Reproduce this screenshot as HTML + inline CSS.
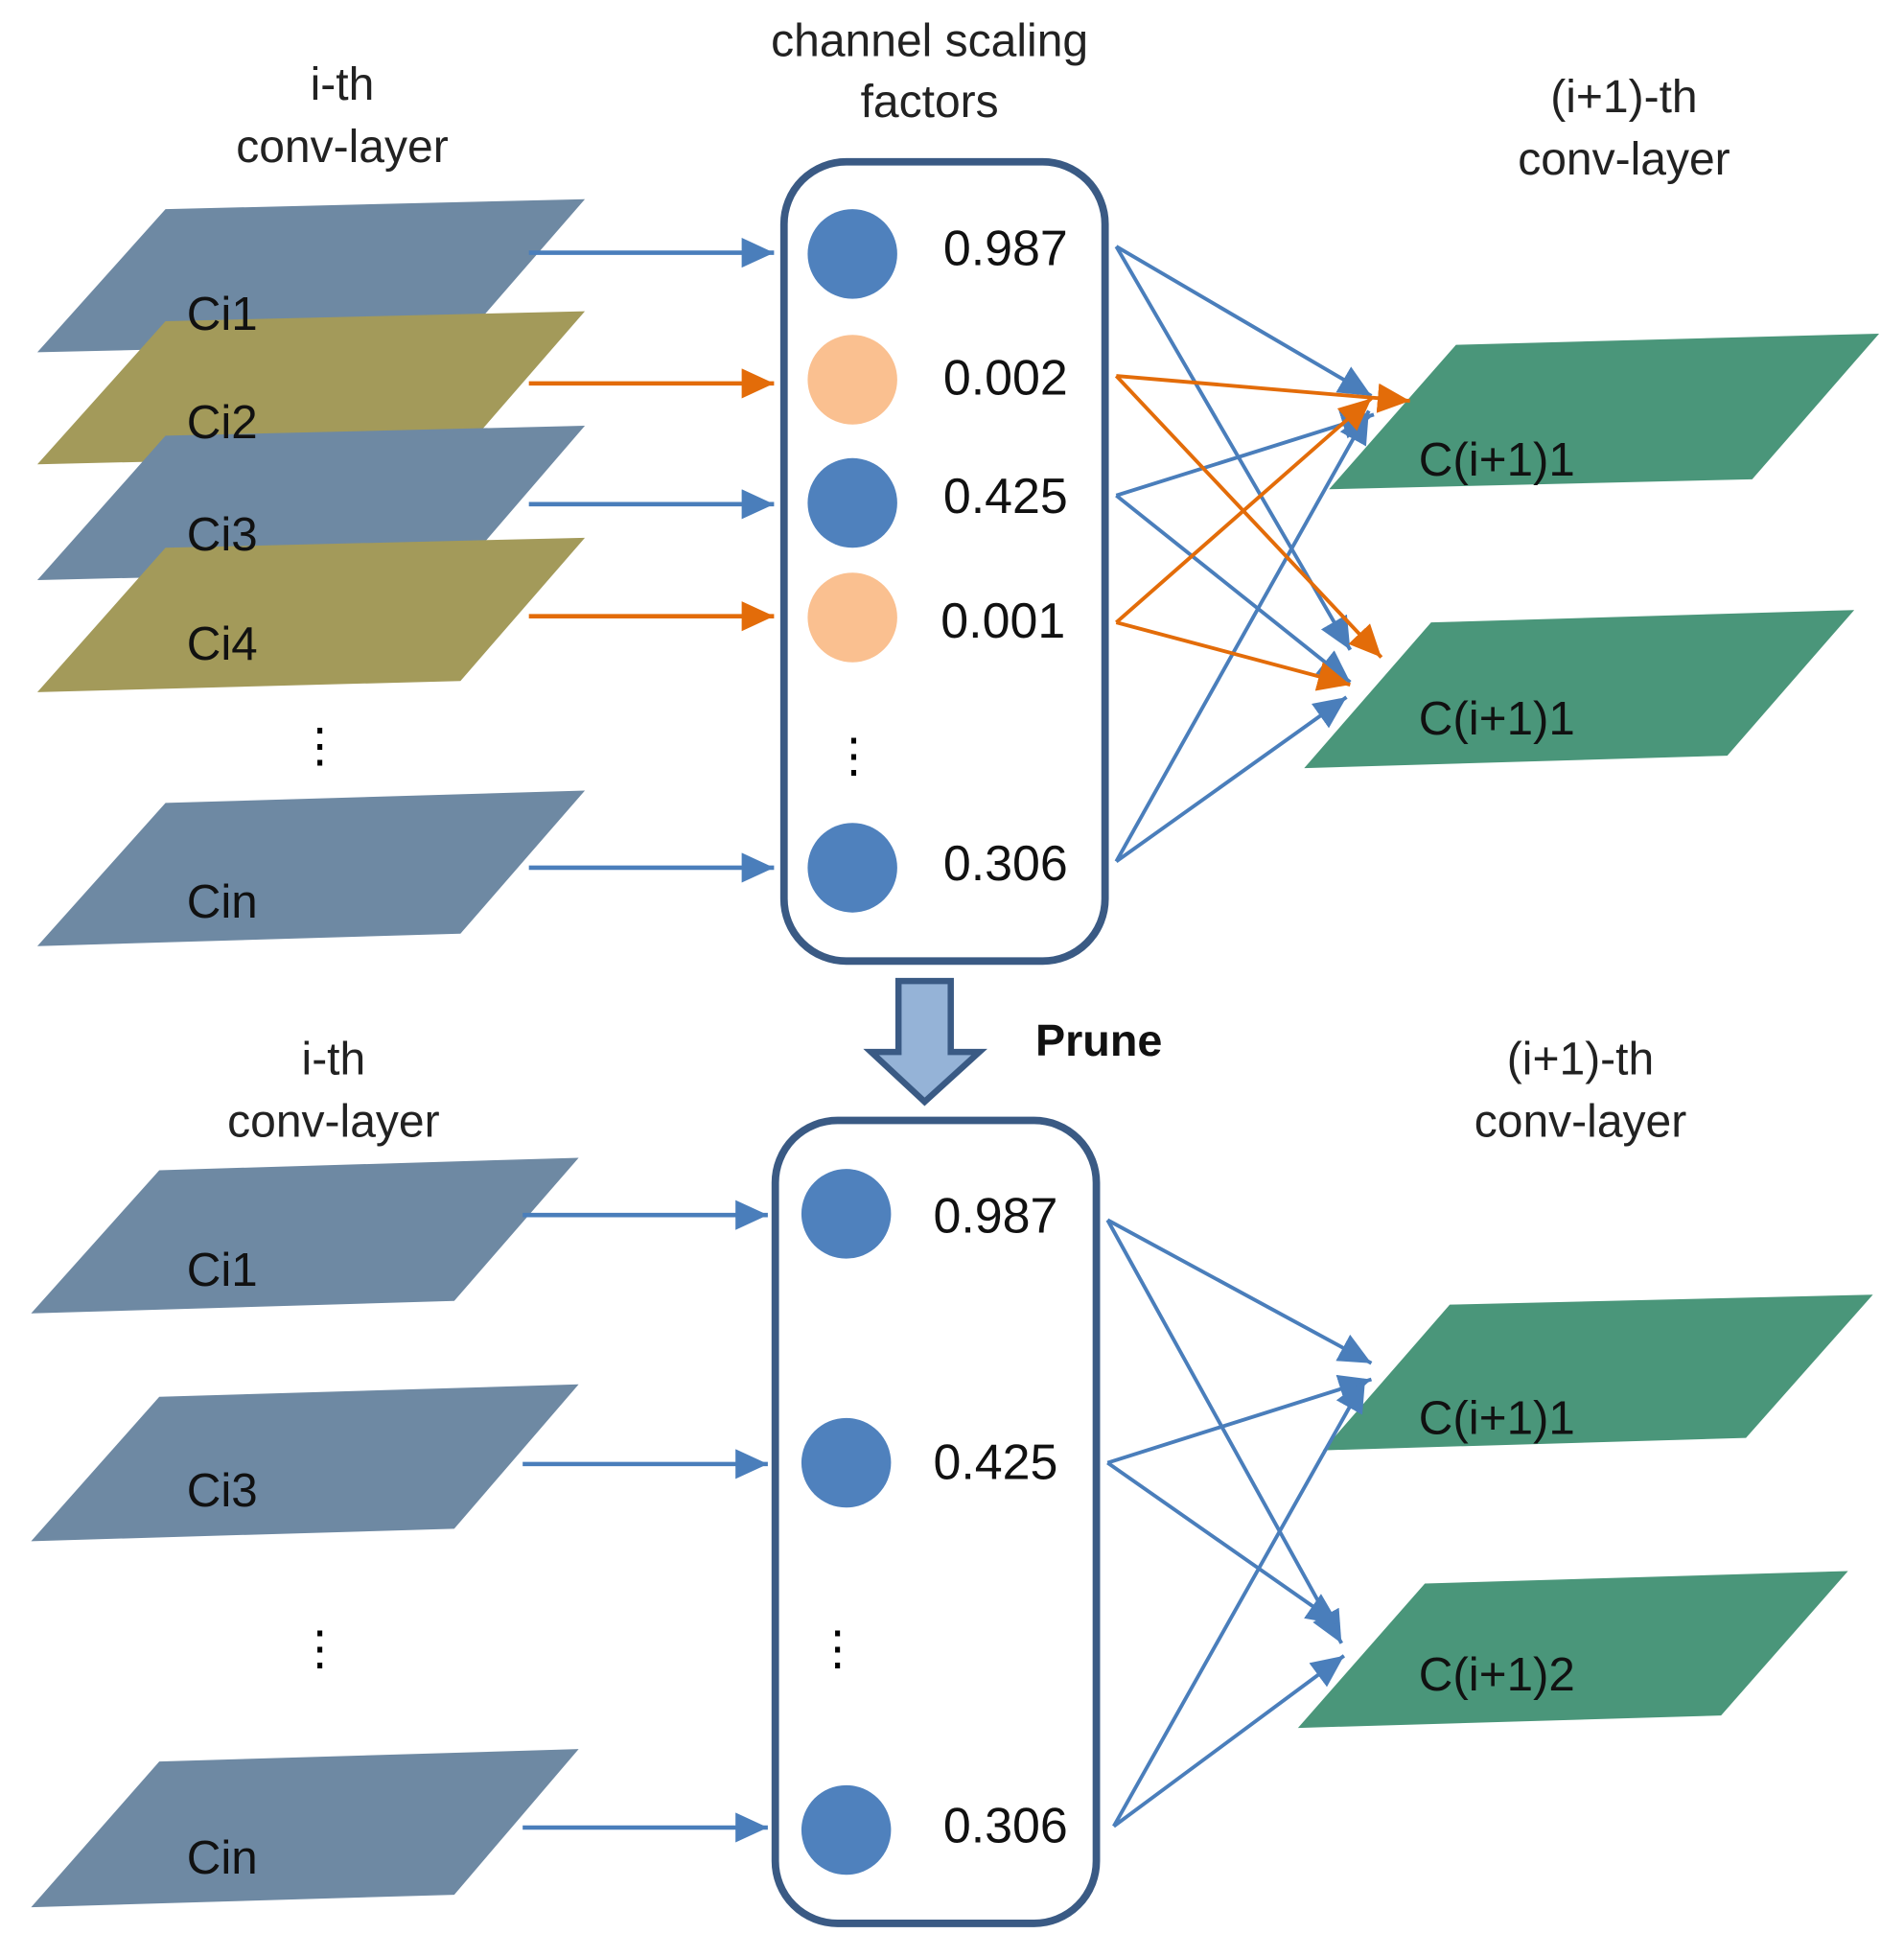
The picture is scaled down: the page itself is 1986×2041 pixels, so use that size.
<!DOCTYPE html>
<html><head><meta charset="utf-8"><style>html,body{margin:0;padding:0;background:#fff}svg{display:block}</style></head>
<body>
<svg width="1986" height="2041" viewBox="0 0 1530 1572" preserveAspectRatio="none" xmlns="http://www.w3.org/2000/svg" font-family="Liberation Sans, sans-serif">
<defs>
<marker id="b" markerUnits="userSpaceOnUse" markerWidth="30" markerHeight="30" refX="26" refY="12" orient="auto"><path d="M0,0 L26,12 L0,24 Z" fill="#4a7ebb"/></marker>
<marker id="o" markerUnits="userSpaceOnUse" markerWidth="30" markerHeight="30" refX="26" refY="12" orient="auto"><path d="M0,0 L26,12 L0,24 Z" fill="#e36c09"/></marker>
</defs>
<g font-size="37" fill="#222" text-anchor="middle">
<text x="275" y="80">i-th</text><text x="275" y="130">conv-layer</text>
<text x="747" y="45">channel scaling</text><text x="747" y="94">factors</text>
<text x="1305" y="90">(i+1)-th</text><text x="1305" y="140">conv-layer</text>
<text x="268" y="863">i-th</text><text x="268" y="913">conv-layer</text>
<text x="1270" y="863">(i+1)-th</text><text x="1270" y="913">conv-layer</text>
</g>
<!-- top left planes -->
<polygon points="30,283 133,168 470,160 370,275" fill="#6e89a3"/>
<polygon points="30,373 133,258 470,250 370,365" fill="#a39a5a"/>
<polygon points="30,466 133,350 470,342 370,458" fill="#6e89a3"/>
<polygon points="30,556 133,440 470,432 370,547" fill="#a39a5a"/>
<polygon points="30,760 133,645 470,635 370,750" fill="#6e89a3"/>
<g font-size="38" fill="#111">
<text x="150" y="265">Ci1</text><text x="150" y="352">Ci2</text><text x="150" y="442">Ci3</text><text x="150" y="530">Ci4</text><text x="150" y="737">Cin</text>
</g>
<text x="257" y="612" font-size="38" text-anchor="middle">⋮</text>
<g stroke-width="3.5">
<line x1="425" y1="203" x2="622" y2="203" stroke="#4a7ebb" marker-end="url(#b)"/>
<line x1="425" y1="308" x2="622" y2="308" stroke="#e36c09" marker-end="url(#o)"/>
<line x1="425" y1="405" x2="622" y2="405" stroke="#4a7ebb" marker-end="url(#b)"/>
<line x1="425" y1="495" x2="622" y2="495" stroke="#e36c09" marker-end="url(#o)"/>
<line x1="425" y1="697" x2="622" y2="697" stroke="#4a7ebb" marker-end="url(#b)"/>
</g>
<rect x="630" y="130" width="258" height="642" rx="50" fill="#fff" stroke="#3a5a84" stroke-width="6"/>
<circle cx="685" cy="204" r="36" fill="#4f81bd"/>
<circle cx="685" cy="305" r="36" fill="#fac090"/>
<circle cx="685" cy="404" r="36" fill="#4f81bd"/>
<circle cx="685" cy="496" r="36" fill="#fac090"/>
<circle cx="685" cy="697" r="36" fill="#4f81bd"/>
<g font-size="40" fill="#111">
<text x="758" y="213">0.987</text><text x="758" y="317">0.002</text><text x="758" y="412">0.425</text><text x="756" y="512">0.001</text><text x="758" y="707">0.306</text>
</g>
<text x="686" y="620" font-size="38" text-anchor="middle">⋮</text>
<polygon points="1068,393 1170,277 1510,268 1408,385" fill="#4a967a"/>
<polygon points="1048,617 1150,500 1490,490 1388,607" fill="#4a967a"/>
<g font-size="38" fill="#111"><text x="1140" y="382">C(i+1)1</text><text x="1140" y="590">C(i+1)1</text></g>
<g stroke-width="3">
<line x1="897" y1="198" x2="1102" y2="318" stroke="#4a7ebb" marker-end="url(#b)"/>
<line x1="897" y1="198" x2="1085" y2="522" stroke="#4a7ebb" marker-end="url(#b)"/>
<line x1="897" y1="398" x2="1104" y2="333" stroke="#4a7ebb" marker-end="url(#b)"/>
<line x1="897" y1="398" x2="1085" y2="548" stroke="#4a7ebb" marker-end="url(#b)"/>
<line x1="897" y1="692" x2="1100" y2="330" stroke="#4a7ebb" marker-end="url(#b)"/>
<line x1="897" y1="692" x2="1082" y2="560" stroke="#4a7ebb" marker-end="url(#b)"/>
<line x1="897" y1="302" x2="1133" y2="322" stroke="#e36c09" marker-end="url(#o)"/>
<line x1="897" y1="302" x2="1110" y2="528" stroke="#e36c09" marker-end="url(#o)"/>
<line x1="897" y1="500" x2="1102" y2="320" stroke="#e36c09" marker-end="url(#o)"/>
<line x1="897" y1="500" x2="1085" y2="550" stroke="#e36c09" marker-end="url(#o)"/>
</g>
<!-- prune arrow -->
<path d="M722,788 L764,788 L764,845 L787,845 L743,885 L700,845 L722,845 Z" fill="#95b3d7" stroke="#3a5a84" stroke-width="5" stroke-linejoin="miter"/>
<text x="832" y="848" font-size="36" font-weight="bold" fill="#111">Prune</text>
<!-- bottom -->
<polygon points="25,1055 128,940 465,930 365,1045" fill="#6e89a3"/>
<polygon points="25,1238 128,1122 465,1112 365,1228" fill="#6e89a3"/>
<polygon points="25,1532 128,1415 465,1405 365,1522" fill="#6e89a3"/>
<g font-size="38" fill="#111"><text x="150" y="1033">Ci1</text><text x="150" y="1210">Ci3</text><text x="150" y="1505">Cin</text></g>
<text x="257" y="1337" font-size="38" text-anchor="middle">⋮</text>
<g stroke-width="3.5" stroke="#4a7ebb">
<line x1="420" y1="976" x2="617" y2="976" marker-end="url(#b)"/>
<line x1="420" y1="1176" x2="617" y2="1176" marker-end="url(#b)"/>
<line x1="420" y1="1468" x2="617" y2="1468" marker-end="url(#b)"/>
</g>
<rect x="623" y="900" width="258" height="645" rx="50" fill="#fff" stroke="#3a5a84" stroke-width="6"/>
<circle cx="680" cy="975" r="36" fill="#4f81bd"/>
<circle cx="680" cy="1175" r="36" fill="#4f81bd"/>
<circle cx="680" cy="1470" r="36" fill="#4f81bd"/>
<g font-size="40" fill="#111"><text x="750" y="990">0.987</text><text x="750" y="1188">0.425</text><text x="758" y="1480">0.306</text></g>
<text x="673" y="1337" font-size="38" text-anchor="middle">⋮</text>
<polygon points="1063,1165 1165,1048 1505,1040 1403,1155" fill="#4a967a"/>
<polygon points="1043,1388 1145,1272 1485,1262 1383,1378" fill="#4a967a"/>
<g font-size="38" fill="#111"><text x="1140" y="1152">C(i+1)1</text><text x="1140" y="1358">C(i+1)2</text></g>
<g stroke-width="3" stroke="#4a7ebb">
<line x1="890" y1="980" x2="1102" y2="1095" marker-end="url(#b)"/>
<line x1="890" y1="980" x2="1078" y2="1320" marker-end="url(#b)"/>
<line x1="890" y1="1175" x2="1102" y2="1108" marker-end="url(#b)"/>
<line x1="890" y1="1175" x2="1076" y2="1305" marker-end="url(#b)"/>
<line x1="895" y1="1467" x2="1097" y2="1108" marker-end="url(#b)"/>
<line x1="895" y1="1467" x2="1080" y2="1330" marker-end="url(#b)"/>
</g>
</svg>
</body></html>
